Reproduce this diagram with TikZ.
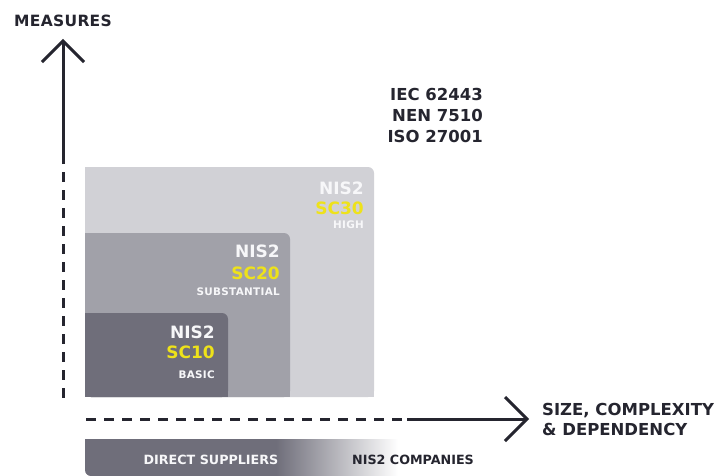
\documentclass[tikz,border=0pt]{standalone}
\usepackage{fontspec}
\setmainfont{DejaVu Sans}
\definecolor{ink}{HTML}{25252F}
\definecolor{boxlight}{HTML}{D1D1D6}
\definecolor{boxmid}{HTML}{A1A1A9}
\definecolor{boxdark}{HTML}{6F6E7A}
\definecolor{scyellow}{HTML}{EEE21A}
\definecolor{softwhite}{HTML}{F7F7F9}
\tikzset{
  axisline/.style={draw=ink, line width=3pt, line join=miter},
  axisdash/.style={axisline, dash pattern=on 10pt off 8pt},
  bigtxt/.style={inner sep=0pt, text=ink, font=\fontsize{16.5}{20}\selectfont\bfseries},
  nistxt/.style={inner sep=0pt, anchor=base east, text=softwhite, font=\fontsize{17}{20}\selectfont\bfseries},
  sctxt/.style={inner sep=0pt, anchor=base east, text=scyellow, font=\fontsize{17}{20}\selectfont\bfseries},
  lvltxt/.style={inner sep=0pt, anchor=base east, text=softwhite, font=\fontsize{10.4}{12}\selectfont\bfseries\addfontfeatures{LetterSpace=3}},
  bartxt/.style={inner sep=0pt, anchor=base, font=\fontsize{12.7}{15}\selectfont\bfseries},
}
\begin{document}
\begin{tikzpicture}[x=1pt, y=-1pt]
\useasboundingbox[fill=white] (0,0) rectangle (722,475);

% level boxes
\fill[boxlight, rounded corners=6pt] (85,167) rectangle (374,397);
\fill[boxlight] (85,180) rectangle (374,397);
\fill[boxlight] (85,167) rectangle (360,397);
\fill[boxmid, rounded corners=6pt] (85,233) rectangle (290,397);
\fill[boxmid] (85,246) rectangle (290,397);
\fill[boxmid] (85,233) rectangle (276,397);
\fill[boxdark, rounded corners=6pt] (85,313) rectangle (228,397);
\fill[boxdark] (85,326) rectangle (228,397);
\fill[boxdark] (85,313) rectangle (214,397);

% box labels
\node[nistxt] (n30) at (364,194) {NIS2};
\node[sctxt] (s30) at (364,214) {SC30};
\node[lvltxt] (l30) at (364,228) {HIGH};
\node[nistxt] (n20) at (280,257) {NIS2};
\node[sctxt] (s20) at (280,279) {SC20};
\node[lvltxt] (l20) at (280,295) {SUBSTANTIAL};
\node[nistxt] (n10) at (215,338) {NIS2};
\node[sctxt] (s10) at (215,358) {SC10};
\node[lvltxt] (l10) at (215,378) {BASIC};

% standards
\node[bigtxt, anchor=base east] (iec) at (483,100) {IEC 62443};
\node[bigtxt, anchor=base east] (nen) at (483,121) {NEN 7510};
\node[bigtxt, anchor=base east] (iso) at (483,142) {ISO 27001};

% vertical axis
\coordinate (vtip) at (63,41);
\coordinate (vsolid) at (63,164);
\coordinate (vdash) at (63,172);
\coordinate (vbot) at (63,398);
\draw[axisline] (vsolid) -- (vtip);
\draw[axisline] (vtip) ++(-21,21) -- (vtip) -- ++(21,21);
\draw[axisdash] (vdash) -- (vbot);
\node[bigtxt, anchor=base west, font=\fontsize{15.5}{18}\selectfont\bfseries\addfontfeatures{LetterSpace=2}] (meas) at (14,26) {MEASURES};

% horizontal axis
\coordinate (hstart) at (86,419);
\coordinate (hdashend) at (402,419);
\coordinate (hsolid) at (407,419);
\coordinate (htip) at (527,419);
\draw[axisdash] (hstart) -- (hdashend);
\draw[axisline] (hsolid) -- (htip);
\draw[axisline] (htip) ++(-22,-22) -- (htip) -- ++(-22,22);
\node[bigtxt, anchor=base west] (size) at (542,415) {SIZE, COMPLEXITY};
\node[bigtxt, anchor=base west] (dep) at (542,435) {\& DEPENDENCY};

% bottom bar
\fill[boxdark, rounded corners=6pt] (85,439) rectangle (290,476);
\fill[boxdark] (85,439) rectangle (290,462);
\fill[boxdark] (99,439) rectangle (290,476);
\shade[left color=boxdark, right color=white] (276,439) rectangle (398,476);
\node[bartxt, text=softwhite] (direct) at (211,464) {DIRECT SUPPLIERS};
\node[bartxt, anchor=base west, text=ink] (comp) at (352,464) {NIS2 COMPANIES};
\end{tikzpicture}
\end{document}
